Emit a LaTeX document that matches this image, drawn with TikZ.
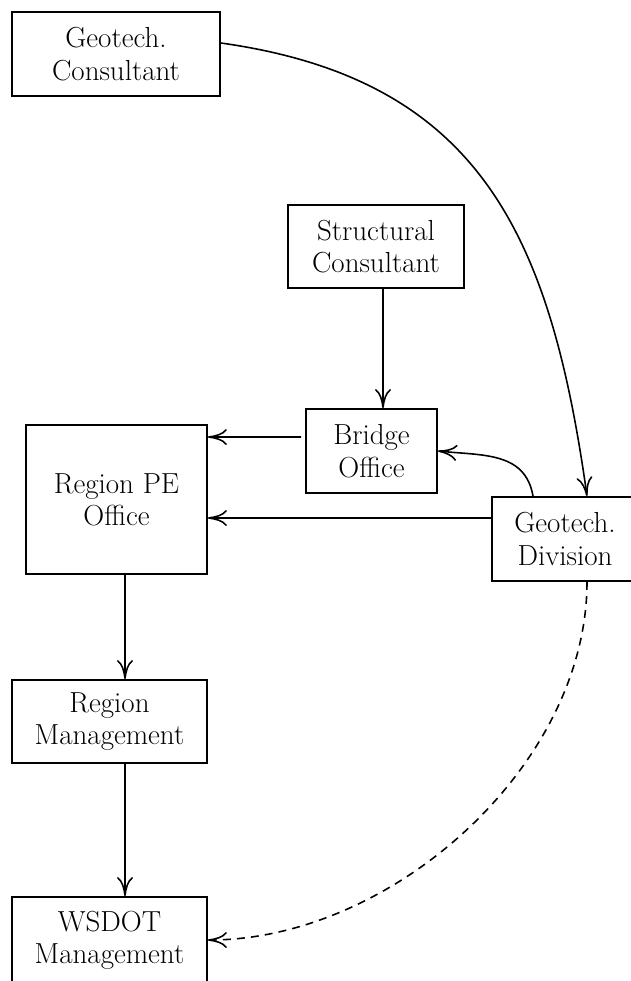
\documentclass[tikz,border=0pt]{standalone}
\usepackage{tikz}
\usetikzlibrary{arrows.meta}

\tikzset{
  box/.style={draw, line width=1.1pt, align=center, inner sep=0pt,
    font=\fontsize{16.5}{18.4}\selectfont},
  arr/.style={-{Computer Modern Rightarrow[length=3.8mm,width=3.2mm]}, line width=0.9pt},
}

\begin{document}
\begin{tikzpicture}[x=0.02cm, y=-0.02cm]
            \useasboundingbox (0,0) rectangle (631,981);
            % offices
            \node[box, minimum width=4.16cm, minimum height=1.68cm] (gc) at (116,54) {Geotech.\\Consultant};
            \node[box, minimum width=3.52cm, minimum height=1.66cm] (sc) at (376,246.5) {Structural\\Consultant};
            \node[box, minimum width=2.62cm, minimum height=1.68cm] (bo) at (371.5,451) {Bridge\\Office};
            \node[box, minimum width=3.62cm, minimum height=2.98cm] (rpe) at (116.5,499.5) {Region PE\\Office};
            \node[box, minimum width=2.92cm, minimum height=1.68cm] (gd) at (565,539) {Geotech.\\Division};
            \node[box, minimum width=3.90cm, minimum height=1.66cm] (rm) at (109.5,721.5) {Region\\Management};
            \node[box, minimum width=3.90cm, minimum height=1.72cm] (wm) at (109.5,940) {WSDOT\\Management};
            % reports
            \draw[arr] ([yshift=0.22cm]gc.east) to[out=-8,in=98,looseness=1.15] ([xshift=0.44cm]gd.north);
            \draw[arr] ([xshift=0.14cm]sc.south) -- ([xshift=0.23cm]bo.north);
            \draw[arr] ([xshift=-0.08cm,yshift=0.28cm]bo.west) -- ([yshift=1.25cm]rpe.east);
            \draw[arr] ([yshift=0.42cm]gd.west) -- ([yshift=-0.37cm]rpe.east);
            \draw[arr] ([xshift=-0.64cm]gd.north) to[out=100,in=-6,looseness=1.1] (bo.east);
            \draw[arr] ([xshift=0.17cm]rpe.south) -- ([xshift=0.31cm]rm.north);
            \draw[arr] ([xshift=0.31cm]rm.south) -- ([xshift=0.31cm]wm.north);
            \draw[arr, dash pattern=on 4.5pt off 3.5pt] ([xshift=0.44cm]gd.south) to[out=-90,in=0,looseness=0.9] (wm.east);
\end{tikzpicture}
\end{document}
